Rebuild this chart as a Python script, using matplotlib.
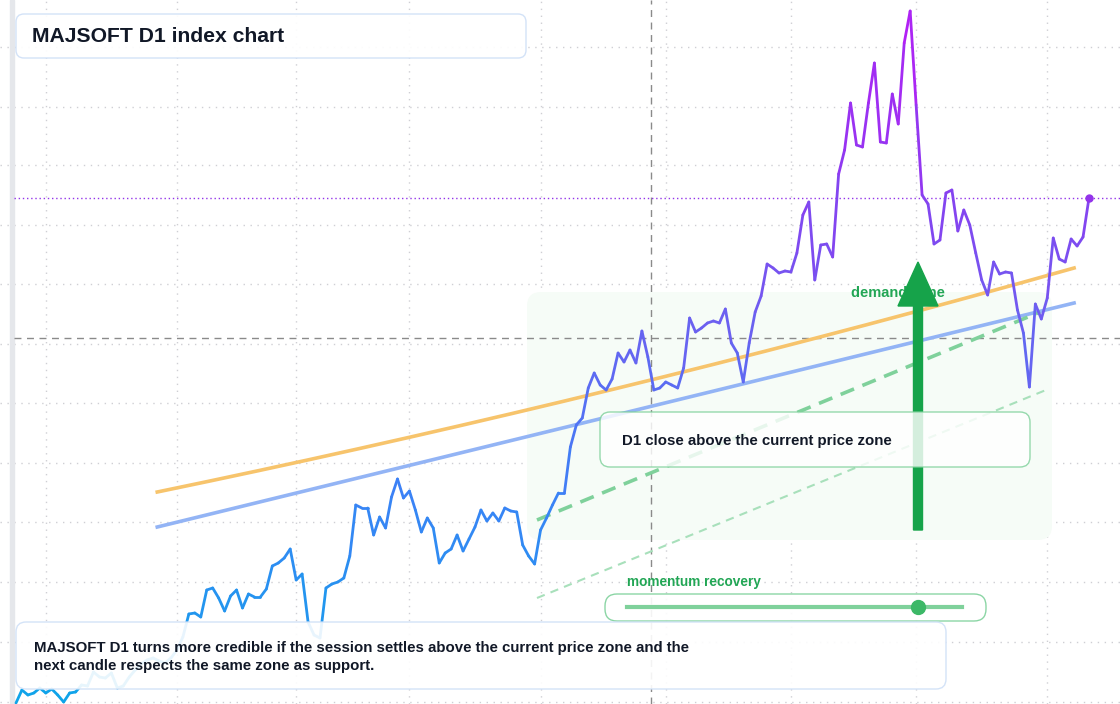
import numpy as np
import matplotlib
matplotlib.use("Agg")
import matplotlib.pyplot as plt
from matplotlib.collections import LineCollection
from matplotlib.colors import LinearSegmentedColormap
from matplotlib.patches import FancyBboxPatch, FancyArrow

plt.rcParams['font.family'] = ['Liberation Sans', 'DejaVu Sans']

# ---------------- data ----------------
close = [1,14,9,11,16,11,15,9,2,11,12,19,18,32,27,26,31,16,18,27,34,40,44,46,43,41,46,54,67,90,
         91,87,114,116,106,93,108,114,96,110,107,107,115,138,141,146,155,124,130,82,69,66,116,120,122,126,148,199,196,196,
         169,187,176,207,225,206,213,194,172,186,176,141,151,155,169,153,165,177,194,183,191,183,196,193,192,159,148,140,174,186,
         199,211,211,257,279,286,316,331,319,314,325,351,342,354,341,373,347,314,316,322,319,316,336,386,372,376,381,383,381,395,
         361,351,322,361,392,408,440,436,431,433,432,451,489,502,424,459,460,447,530,554,601,559,557,601,641,562,561,610,580,661,
         693,599,509,500,460,464,511,514,473,494,479,451,424,409,442,430,432,431,394,371,317,400,385,406,466,445,442,465,458,467,506]
days = list(range(len(close)))
last_close = 506
pivot_level = 366
pivot_day = 106.5
resist_days = [23.7, 106.5, 177.5]
resist_vals = [212, 324, 436]
support_days = [23.7, 177.5]
support_vals = [177, 401]
trend_days = [87.4, 171.8]
trend_vals = [184, 392]
trend2_days = [87.4, 173.2]
trend2_vals = [106, 315]
grid_days = [5, 27, 47, 66, 88, 109, 130, 151, 173]
grid_levels = [657, 597, 539, 479, 420, 360, 301, 241, 182, 122, 62, 2]
title = "MAJSOFT D1 index chart"
note = ("MAJSOFT D1 turns more credible if the session settles above the current price zone and the\n"
        "next candle respects the same zone as support.")
callout = "D1 close above the current price zone"
zone_label = "demand zone"
slider_label = "momentum recovery"

# ---------------- figure ----------------
fig = plt.figure(figsize=(11.2, 7.04), dpi=100)
ov = fig.add_axes([0, 0, 1, 1], facecolor="none")
ov.set_xlim(0, 1120); ov.set_ylim(704, 0); ov.axis("off")
ax = fig.add_axes([0, 0, 1, 1], facecolor="none")
ax.set_xlim(-2.68, 185.2)
ax.set_ylim(0, 704)
ax.axis("off")
P = ov.transData  # pixel-style layout transform

for g in grid_days:
    ax.axvline(g, color="#cfcfd4", lw=1, ls=(0, (1, 4)), zorder=0)
for g in grid_levels:
    ax.axhline(g, color="#cfcfd4", lw=1, ls=(0, (1, 4)), zorder=0)
ax.add_patch(plt.Rectangle((10, 0), 4, 704, color="#e5e7eb", zorder=0, transform=P))

# demand zone
ax.add_patch(FancyBboxPatch((527, 292), 525, 248, boxstyle="round,pad=0,rounding_size=14",
                            fc="#f6fcf7", ec="none", zorder=1, transform=P))

ax.axhline(pivot_level, xmin=14/1120, color="#8a8a8a", lw=1, ls=(0, (5, 4)), zorder=2)
ax.axvline(pivot_day, color="#8a8a8a", lw=1, ls=(0, (5, 4)), zorder=2)
ax.axhline(last_close, xmin=14/1120, color="#9333ea", lw=1, ls=(0, (1, 2)), zorder=2)

# resistance (curved) and support
c = np.polyfit(resist_days, resist_vals, 2)
xr = np.linspace(resist_days[0], resist_days[-1], 200)
ax.plot(xr, np.polyval(c, xr), color="#f7c46c", lw=2.6, zorder=3)
ax.plot(support_days, support_vals, color="#93b4f5", lw=2.6, zorder=3)
ax.plot(trend_days, trend_vals, color="#7fd19b", lw=2.6, ls=(0, (4, 2.5)), zorder=3)
ax.plot(trend2_days, trend2_vals, color="#a8e0bb", lw=1.5, ls=(0, (4, 3)), zorder=3)

# price line coloured by level
cmap = LinearSegmentedColormap.from_list("p", [(0, "#0ea5e9"), (0.3, "#3b82f6"), (0.55, "#6d5ff0"),
                                              (0.75, "#8b3cf0"), (1, "#b81cf6")])
x = np.array(days, float); y = np.array(close, float)
segs = np.stack([np.column_stack([x[:-1], y[:-1]]), np.column_stack([x[1:], y[1:]])], axis=1)
lc = LineCollection(segs, cmap=cmap, lw=2, zorder=4, capstyle="round", joinstyle="round")
lc.set_array((y[:-1] + y[1:]) / 2); lc.set_clim(0, 700)
ax.add_collection(lc)
ax.plot(days[-1], close[-1], "o", color="#9333ea", ms=5, zorder=5)

# demand zone label + arrow
ax.text(851, 293, zone_label, color="#22a655", fontsize=10.5, fontweight="bold", va="center",
        zorder=5, transform=P)
ax.add_patch(FancyArrow(918, 530, 0, -268, width=9, head_width=40, head_length=44,
                        length_includes_head=True, color="#16a34a", zorder=6, transform=P))

# overlays on top
ov2 = fig.add_axes([0, 0, 1, 1], facecolor="none")
ov2.set_xlim(0, 1120); ov2.set_ylim(704, 0); ov2.axis("off")

ov2.add_patch(FancyBboxPatch((600, 412), 430, 55, boxstyle="round,pad=0,rounding_size=10",
                             fc="white", ec="#7fd19b", lw=1, alpha=0.82, zorder=7))
ov2.text(622, 441, callout, fontsize=10.8, fontweight="bold", color="#111827", va="center", zorder=8)

ov2.text(627, 582, slider_label, color="#22a655", fontsize=9.8, fontweight="bold", va="center", zorder=8)
ov2.add_patch(FancyBboxPatch((605, 594), 381, 27, boxstyle="round,pad=0,rounding_size=12",
                             fc="white", ec="#7fd19b", lw=1, alpha=0.9, zorder=7))
ov2.plot([627, 962], [607, 607], color="#7fd19b", lw=3, zorder=8)
ov2.plot(918, 607, "o", color="#3cb867", ms=10, zorder=9)

ov2.add_patch(FancyBboxPatch((16, 14), 510, 44, boxstyle="round,pad=0,rounding_size=8",
                             fc="white", ec="#cfe0f7", lw=1, alpha=0.92, zorder=7))
ov2.text(32, 36, title, fontsize=15.2, fontweight="bold", color="#111827", va="center", zorder=8)

ov2.add_patch(FancyBboxPatch((16, 622), 930, 67, boxstyle="round,pad=0,rounding_size=10",
                             fc="white", ec="#cfe0f7", lw=1, alpha=0.9, zorder=7))
ov2.text(34, 657, note, fontsize=10.8, fontweight="bold", color="#111827", va="center",
         linespacing=1.45, zorder=8)

fig.savefig("out.png", dpi=100)
